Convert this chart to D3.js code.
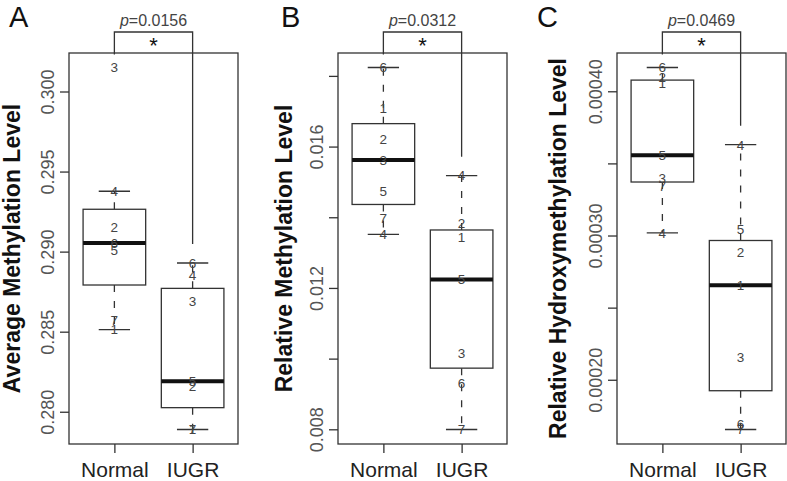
<!DOCTYPE html>
<meta charset="utf-8">
<style>
body { margin: 0; background: #fff; }
svg { font-family: "Liberation Sans", Arial, sans-serif; }
.frame { fill: none; stroke: #333; stroke-width: 1.3px; }
.box { fill: #fff; stroke: #333; stroke-width: 1.3px; }
.median { stroke: #111; stroke-width: 4px; }
.whisker { stroke: #333; stroke-width: 1.3px; stroke-dasharray: 7,9; }
.staple { stroke: #333; stroke-width: 1.3px; }
.bracket { fill: none; stroke: #333; stroke-width: 1.3px; }
.pt { fill: #444; font-size: 13.5px; }
</style>
<svg width="787" height="481"></svg>
<script src="https://d3js.org/d3.v7.min.js"></script>
<script>
// samples are numbered 1..7, values listed in that order
var groups = ["Normal", "IUGR"];
var sampleIds = [1, 2, 3, 4, 5, 6, 7];

var avgNormal = [0.28513, 0.29152, 0.30150, 0.29377, 0.29008, 0.29054, 0.28575];
var avgIUGR   = [0.27893, 0.28158, 0.28689, 0.28852, 0.28190, 0.28929, 0.27889];

var relNormal = [0.017088, 0.016210, 0.015623, 0.013518, 0.014753, 0.018238, 0.013971];
var relIUGR   = [0.013450, 0.013830, 0.010147, 0.015178, 0.012240, 0.009314, 0.007994];

var hydNormal = [0.0004055, 0.0004100, 0.0003400, 0.0003019, 0.0003556, 0.0004165, 0.0003342];
var hydIUGR   = [0.0002655, 0.0002884, 0.0002158, 0.0003630, 0.0003047, 0.0001690, 0.0001655];

var pValues = ["0.0156", "0.0312", "0.0469"];
var letters = ["A", "B", "C"];
var titles = ["Average Methylation Level", "Relative Methylation Level", "Relative Hydroxymethylation Level"];

var aTicks = [0.280, 0.285, 0.290, 0.295, 0.300];
var aLabels = [0.280, 0.285, 0.290, 0.295, 0.300];
var bTicks = [0.008, 0.010, 0.012, 0.014, 0.016, 0.018];
var bLabels = [0.008, 0.012, 0.016];
var cTicks = [0.00020, 0.00025, 0.00030, 0.00035, 0.00040];
var cLabels = [0.00020, 0.00030, 0.00040];

var panels = [
  {letter: letters[0], title: titles[0], series: [avgNormal, avgIUGR], ticks: aTicks, labels: aLabels, fmt: ".3f", p: pValues[0], left: 69, titleX: 20, letterX: 9},
  {letter: letters[1], title: titles[1], series: [relNormal, relIUGR], ticks: bTicks, labels: bLabels, fmt: ".3f", p: pValues[1], left: 338, titleX: 292, letterX: 281},
  {letter: letters[2], title: titles[2], series: [hydNormal, hydIUGR], ticks: cTicks, labels: cLabels, fmt: ".5f", p: pValues[2], left: 617, titleX: 566, letterX: 537}
];

var svg = d3.select("svg");
var plotTop = 53, plotBottom = 444, plotW = 169;

// R style five number summary
function fivenum(vals) {
  var x = vals.slice().sort(d3.ascending), n = x.length;
  var n4 = Math.floor((n + 3) / 2) / 2;
  var d = [1, n4, (n + 1) / 2, n + 1 - n4, n];
  return d.map(function(k) { return 0.5 * (x[Math.floor(k) - 1] + x[Math.ceil(k) - 1]); });
}

panels.forEach(function(p, pi) {
  var g = svg.append("g");
  var all = p.series[0].concat(p.series[1]);
  var ext = d3.extent(all), pad = (ext[1] - ext[0]) * 0.04;
  var y = d3.scaleLinear().domain([ext[0] - pad, ext[1] + pad]).range([plotBottom, plotTop]);
  var x = d3.scaleLinear().domain([0.42, 2.58]).range([p.left, p.left + plotW]);

  // boxes
  p.series.forEach(function(vals, gi) {
    var f = fivenum(vals);
    var iqr = f[3] - f[1];
    var hi = d3.max(vals.filter(function(v) { return v <= f[3] + 1.5 * iqr; }));
    var lo = d3.min(vals.filter(function(v) { return v >= f[1] - 1.5 * iqr; }));
    var cx = x(gi + 1);
    var bw = x(1.4) - x(1), sw = x(1.2) - x(1);
    g.append("line").attr("class", "whisker")
      .attr("x1", cx).attr("x2", cx).attr("y1", y(f[3])).attr("y2", y(hi));
    g.append("line").attr("class", "whisker")
      .attr("x1", cx).attr("x2", cx).attr("y1", y(f[1])).attr("y2", y(lo));
    g.append("line").attr("class", "staple")
      .attr("x1", cx - sw).attr("x2", cx + sw).attr("y1", y(hi)).attr("y2", y(hi));
    g.append("line").attr("class", "staple")
      .attr("x1", cx - sw).attr("x2", cx + sw).attr("y1", y(lo)).attr("y2", y(lo));
    g.append("rect").attr("class", "box")
      .attr("x", cx - bw).attr("width", 2 * bw)
      .attr("y", y(f[3])).attr("height", y(f[1]) - y(f[3]));
    g.append("line").attr("class", "median")
      .attr("x1", cx - bw).attr("x2", cx + bw).attr("y1", y(f[2])).attr("y2", y(f[2]));
    g.selectAll(".pt" + gi).data(vals).enter().append("text")
      .attr("class", "pt")
      .attr("x", cx).attr("y", function(v) { return y(v); })
      .attr("dy", "0.36em").attr("text-anchor", "middle")
      .text(function(v, i) { return sampleIds[i]; });
  });

  g.append("rect").attr("class", "frame")
    .attr("x", p.left).attr("y", plotTop).attr("width", plotW).attr("height", plotBottom - plotTop);

  // y axis
  var fmt = d3.format(p.fmt);
  var yAxis = d3.axisLeft(y).tickValues(p.ticks).tickSize(9)
    .tickFormat(function(v) {
      return p.labels.some(function(l) { return Math.abs(l - v) < 1e-9; }) ? fmt(v) : "";
    });
  var ya = g.append("g").attr("transform", "translate(" + p.left + ",0)").call(yAxis);
  ya.select(".domain").remove();
  ya.selectAll(".tick line").attr("stroke", "#333").attr("stroke-width", 1.3);
  ya.selectAll(".tick text")
    .attr("transform", "rotate(-90)")
    .attr("x", 0).attr("y", -15.5).attr("dy", 0)
    .attr("text-anchor", "middle")
    .attr("fill", "#555").attr("font-size", 18);

  // x axis
  var xAxis = d3.axisBottom(x).tickValues([1, 2]).tickSize(9)
    .tickFormat(function(v) { return groups[v - 1]; });
  var xa = g.append("g").attr("transform", "translate(0," + plotBottom + ")").call(xAxis);
  xa.select(".domain").remove();
  xa.selectAll(".tick line").attr("stroke", "#333").attr("stroke-width", 1.3);
  xa.selectAll(".tick text")
    .attr("y", 33).attr("dy", 0)
    .attr("fill", "#222").attr("font-size", 21);

  // axis title
  g.append("text")
    .attr("transform", "translate(" + p.titleX + "," + ((plotTop + plotBottom) / 2) + ") rotate(-90)")
    .attr("text-anchor", "middle")
    .attr("font-weight", "bold").attr("font-size", 23).attr("fill", "#111")
    .text(p.title);

  // panel letter
  g.append("text")
    .attr("x", p.letterX).attr("y", 27)
    .attr("font-size", 29).attr("fill", "#111")
    .text(p.letter);

  // significance bracket
  var x1 = x(1), x2 = x(2), by = 32;
  var leftEnd = y(d3.max(p.series[0])) - 13;
  var rightEnd = y(d3.max(p.series[1])) - 19;
  g.append("path").attr("class", "bracket")
    .attr("d", "M" + x1 + "," + leftEnd + "V" + by + "H" + x2 + "V" + rightEnd);
  var pt = g.append("text")
    .attr("x", (x1 + x2) / 2).attr("y", 25.5)
    .attr("text-anchor", "middle").attr("font-size", 16).attr("fill", "#444");
  pt.append("tspan").attr("font-style", "italic").text("p");
  pt.append("tspan").text("=" + p.p);
  g.append("text")
    .attr("x", (x1 + x2) / 2).attr("y", 53)
    .attr("text-anchor", "middle").attr("font-size", 22).attr("fill", "#111")
    .text("*");
});
</script>
